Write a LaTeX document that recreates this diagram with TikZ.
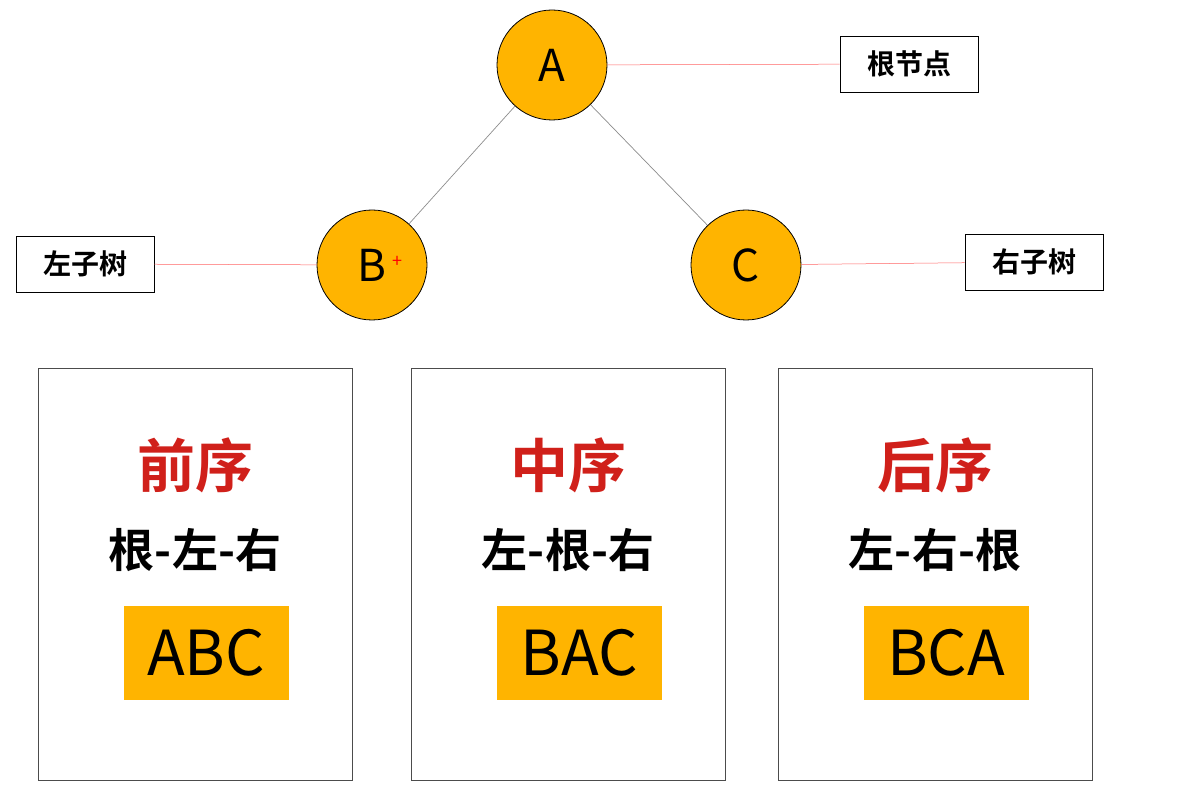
\documentclass[tikz,border=0pt]{standalone}
\usepackage{fontspec}
\setmainfont{Noto Sans CJK SC}
\newfontfamily\cjkb{Noto Sans CJK SC Bold}
\definecolor{gold}{HTML}{FFB400}
\definecolor{tred}{HTML}{D0201A}
\begin{document}
\begin{tikzpicture}[x=1pt,y=-1pt,
  tn/.style={circle,draw=black,line width=0.8pt,fill=gold,minimum size=110pt,inner sep=0pt,font=\fontsize{44}{44}\selectfont},
  lab/.style={draw=black,line width=0.8pt,minimum width=138pt,minimum height=56pt,inner sep=0pt,font=\cjkb\fontsize{28}{28}\selectfont},
  panel/.style={draw=black!70,line width=0.8pt,minimum width=314pt,minimum height=412pt,inner sep=0pt},
  ttl/.style={text=tred,font=\cjkb\fontsize{58}{58}\selectfont},
  ord/.style={font=\cjkb\fontsize{46}{46}\selectfont},
  res/.style={fill=gold,minimum width=165pt,minimum height=94pt,inner sep=0pt,font=\fontsize{62}{62}\selectfont},
  edge/.style={draw=black!45,line width=0.7pt},
  rline/.style={draw=red!60,line width=0.5pt}]
\useasboundingbox (0,0) rectangle (1178,802);
\fill[white] (0,0) rectangle (1178,802);
\node[tn] (A) at (552,65) {A};
\node[tn] (B) at (372,265) {B};
\node[tn] (C) at (746,265) {C};
\node[text=red,font=\fontsize{18}{18}\selectfont] (cur) at (397,262) {+};
\node[lab] (rt) at (909,64) {根节点};
\node[lab] (lt) at (85,264) {左子树};
\node[lab] (rs) at (1034,262) {右子树};
\draw[edge] (A) -- (B);
\draw[edge] (A) -- (C);
\draw[rline] (A) -- (rt);
\draw[rline] (lt) -- (B);
\draw[rline] (C) -- (rs);
\foreach \n/\x/\t/\o/\r in {p/195/前序/根-左-右/ABC, m/568/中序/左-根-右/BAC, q/935/后序/左-右-根/BCA}{
  \node[panel] (\n box) at (\x,574) {};
  \node[ttl] (\n t) at (\x,465) {\t};
  \node[ord] (\n o) at (\x,550) {\o};
  \node[res] (\n r) at (\x+11,653) {\r};
}
\end{tikzpicture}
\end{document}
